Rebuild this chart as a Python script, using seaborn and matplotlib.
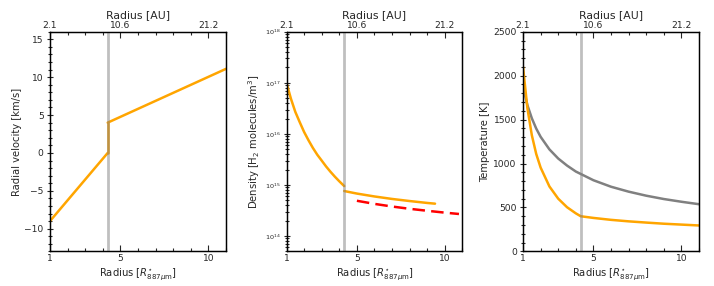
import numpy as np
import pandas as pd
import matplotlib
matplotlib.use("Agg")
import matplotlib.pyplot as plt
import seaborn as sns
from matplotlib.ticker import MultipleLocator

# radius in units of R*_887um, boundary between inner and outer region
r_boundary = 4.28

# radial velocity [km/s]
r_vel_in = [1.0, 4.28]
vel_in = [-9.0, 0.0]
r_vel_out = [4.28, 11.0]
vel_out = [4.0, 11.1]

# density [H2 molecules / m^3]
r_dens_in = [1.0, 1.25, 1.5, 1.75, 2.0, 2.25, 2.5, 2.75, 3.0, 3.25, 3.5, 3.75, 4.0, 4.28]
dens_in = [1.0e17, 4.9e16, 2.7e16, 1.7e16, 1.09e16, 7.5e15, 5.3e15, 3.9e15,
           3.0e15, 2.3e15, 1.81e15, 1.45e15, 1.18e15, 9.5e14]
r_dens_out = [4.28, 5.0, 6.0, 7.0, 8.0, 9.0, 9.44]
dens_out = [7.6e14, 6.78e14, 5.95e14, 5.32e14, 4.84e14, 4.44e14, 4.3e14]
r_dens_ref = [5.0, 6.0, 7.0, 8.0, 9.0, 10.0, 10.8]
dens_ref = [4.9e14, 4.26e14, 3.78e14, 3.41e14, 3.12e14, 2.87e14, 2.7e14]

# temperature [K]
r_temp_gas = [1.0, 1.25, 1.5, 1.75, 2.0, 2.5, 3.0, 3.5, 4.0, 4.28,
              5.0, 6.0, 7.0, 8.0, 9.0, 10.0, 11.0]
temp_gas = [2100, 1628, 1323, 1109, 954, 739, 600, 503, 433, 400,
            381, 359, 342, 328, 315, 305, 295]
r_temp_ref = [1.0, 1.25, 1.5, 1.75, 2.0, 2.5, 3.0, 3.5, 4.0, 5.0,
              6.0, 7.0, 8.0, 9.0, 10.0, 11.0]
temp_ref = [1870, 1664, 1515, 1398, 1304, 1161, 1057, 977, 909, 810,
            736, 680, 634, 596, 565, 537]

x_ticks = [1, 5, 10]
au_labels = ["2.1", "10.6", "21.2"]

sns.set_style("ticks")
plt.rcParams["font.family"] = ["DejaVu Sans"]
plt.rcParams["mathtext.fontset"] = "dejavusans"

fig, axes = plt.subplots(1, 3, figsize=(7.14, 2.86), dpi=100)
fig.subplots_adjust(left=0.070, right=0.979, bottom=0.121, top=0.889, wspace=0.344)

orange = "orange"
lw = 1.8
lab_fs = 7.2
tick_fs = 6.6


def style_axis(ax, ylabel):
    ax.set_xlim(1, 11)
    ax.set_xticks(x_ticks)
    ax.xaxis.set_minor_locator(MultipleLocator(1))
    ax.tick_params(axis="x", which="both", direction="in", labelsize=tick_fs,
                   top=False, bottom=True, pad=2)
    ax.tick_params(axis="x", which="major", length=4, width=0.8)
    ax.tick_params(axis="x", which="minor", length=2.5, width=0.8)
    ax.tick_params(axis="y", which="both", direction="inout", labelsize=tick_fs,
                   right=False, pad=2)
    ax.tick_params(axis="y", which="major", length=5, width=0.8)
    ax.tick_params(axis="y", which="minor", length=3, width=0.8)
    ax.set_xlabel(r"Radius [$R^{\star}_{887\mu\mathrm{m}}$]", fontsize=lab_fs, labelpad=2)
    ax.set_ylabel(ylabel, fontsize=lab_fs, labelpad=2)
    for sp in ax.spines.values():
        sp.set_visible(True)
        sp.set_color("black")
        sp.set_linewidth(0.9)
    ax.axvline(r_boundary, color="gray", alpha=0.5, lw=2, zorder=3)

    top = ax.twiny()
    top.set_xlim(ax.get_xlim())
    top.set_xticks(x_ticks)
    top.set_xticklabels(au_labels)
    top.xaxis.set_minor_locator(MultipleLocator(1))
    top.tick_params(axis="x", which="both", direction="in", labelsize=tick_fs, pad=1.5)
    top.tick_params(axis="x", which="major", length=4, width=0.8)
    top.tick_params(axis="x", which="minor", length=2.5, width=0.8)
    top.set_xlabel("Radius [AU]", fontsize=lab_fs + 0.6, labelpad=2)
    for sp in top.spines.values():
        sp.set_color("black")
        sp.set_linewidth(0.9)


# radial velocity
ax = axes[0]
sns.lineplot(x=r_vel_in, y=vel_in, ax=ax, color=orange, lw=lw, estimator=None, sort=False)
sns.lineplot(x=[r_vel_in[-1], r_vel_out[0]], y=[vel_in[-1], vel_out[0]], ax=ax,
             color=orange, lw=lw, estimator=None, sort=False)
sns.lineplot(x=r_vel_out, y=vel_out, ax=ax, color=orange, lw=lw, estimator=None, sort=False)
ax.set_ylim(-13, 16)
ax.yaxis.set_major_locator(MultipleLocator(5))
ax.yaxis.set_minor_locator(MultipleLocator(1))
style_axis(ax, "Radial velocity [km/s]")

# density
ax = axes[1]
sns.lineplot(x=r_dens_in, y=dens_in, ax=ax, color=orange, lw=lw, estimator=None, sort=False)
sns.lineplot(x=r_dens_out, y=dens_out, ax=ax, color=orange, lw=lw, estimator=None, sort=False)
sns.lineplot(x=r_dens_ref, y=dens_ref, ax=ax, color="red", lw=lw,
             linestyle=(0, (5, 2.5)), estimator=None, sort=False)
ax.set_yscale("log")
ax.set_ylim(5e13, 1e18)
style_axis(ax, r"Density [H$_2$ molecules/m$^3$]")
ax.tick_params(axis="y", which="both", labelsize=4.6)

# temperature
ax = axes[2]
sns.lineplot(x=r_temp_ref, y=temp_ref, ax=ax, color="gray", lw=lw, estimator=None, sort=False)
sns.lineplot(x=r_temp_gas, y=temp_gas, ax=ax, color=orange, lw=lw, estimator=None, sort=False)
ax.set_ylim(0, 2500)
ax.yaxis.set_major_locator(MultipleLocator(500))
ax.yaxis.set_minor_locator(MultipleLocator(100))
style_axis(ax, "Temperature [K]")

fig.savefig("out.png", dpi=100)
